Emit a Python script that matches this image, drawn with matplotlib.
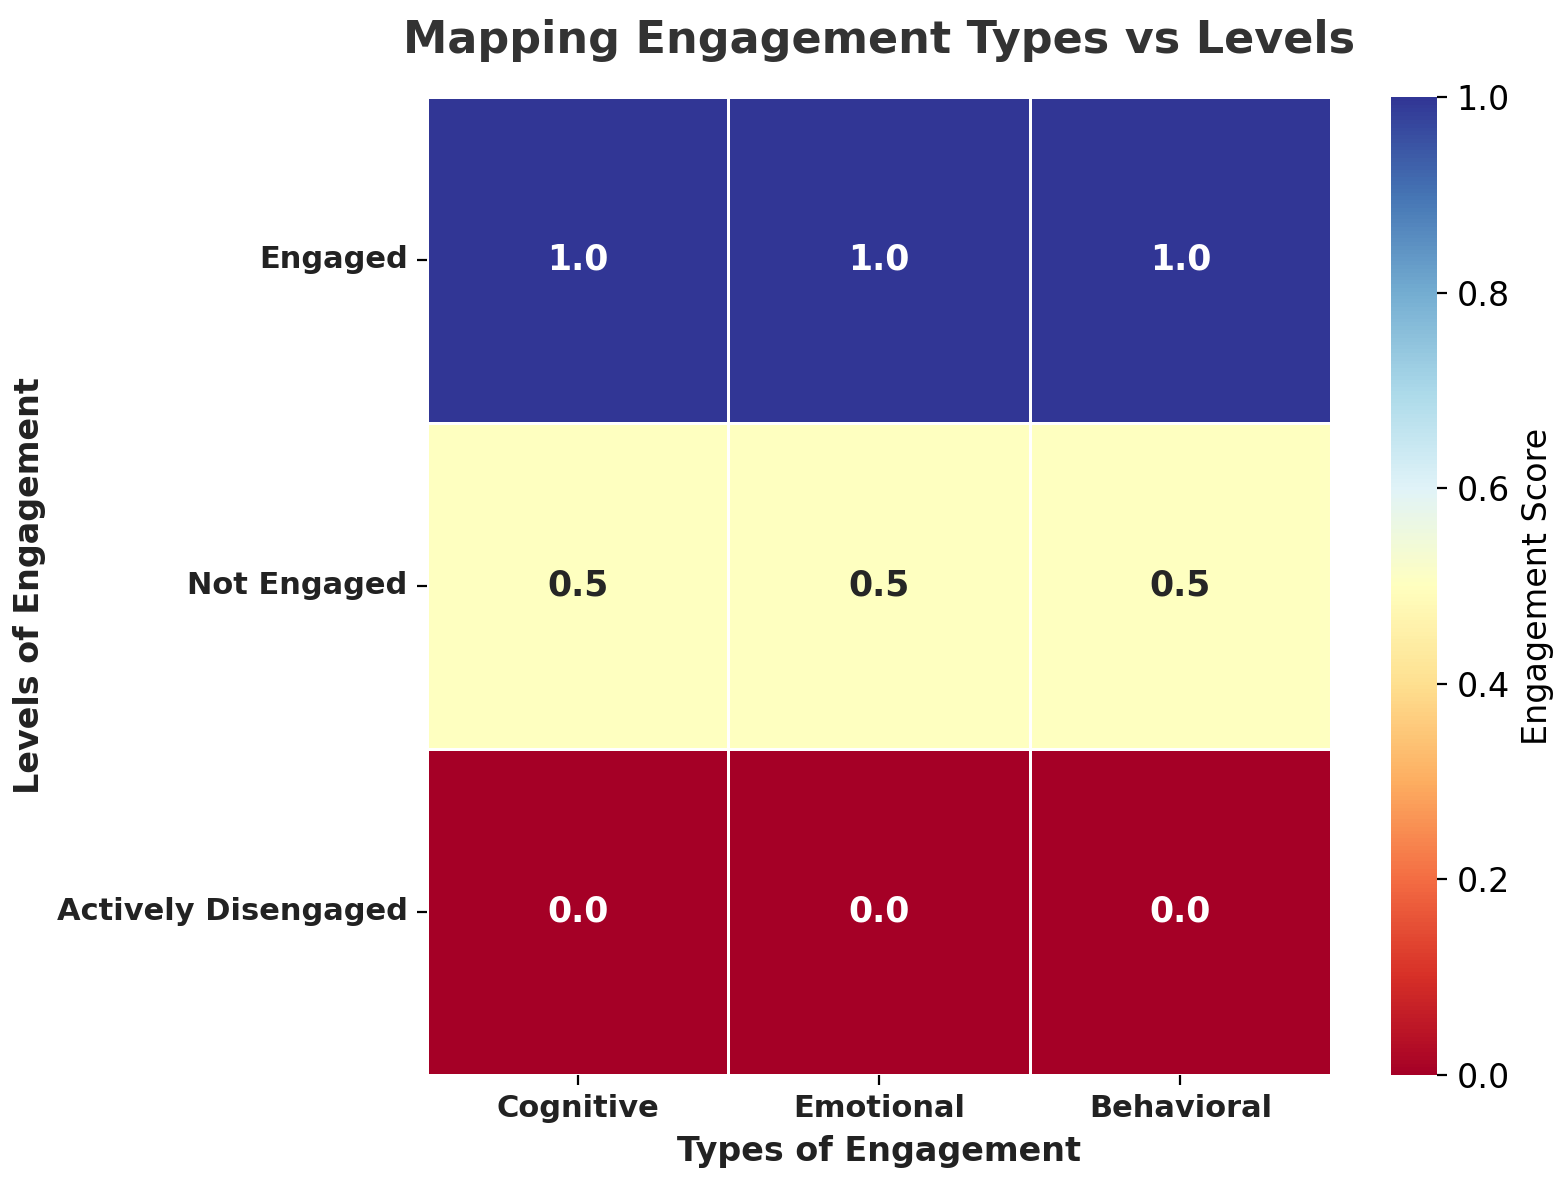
import numpy as np
import matplotlib.pyplot as plt
import seaborn as sns

types = ['Cognitive', 'Emotional', 'Behavioral']
levels = ['Engaged', 'Not Engaged', 'Actively Disengaged']
scores = np.array([[1.0, 1.0, 1.0],
                   [0.5, 0.5, 0.5],
                   [0.0, 0.0, 0.0]])

fig = plt.figure(figsize=(7.825, 5.9), dpi=200)
ax = fig.add_axes([427/1565, 1 - 1075/1180, 904/1565, 978/1180])
cax = fig.add_axes([1391/1565, 1 - 1075/1180, 46/1565, 978/1180])

sns.heatmap(scores, ax=ax, cbar_ax=cax, cmap='RdYlBu', vmin=0, vmax=1,
            annot=True, fmt='.1f', linewidths=1, linecolor='white',
            annot_kws={'fontsize': 12.5, 'fontweight': 'bold'},
            xticklabels=types, yticklabels=levels)

ax.set_xticklabels(types, fontsize=11, fontweight='bold', color='#222222')
ax.set_yticklabels(levels, fontsize=11, fontweight='bold', rotation=0, color='#222222')
ax.set_xlabel('Types of Engagement', fontsize=12, fontweight='bold', color='#222222')
ax.set_ylabel('Levels of Engagement', fontsize=12, fontweight='bold', color='#222222')
ax.set_title('Mapping Engagement Types vs Levels', fontsize=16, fontweight='bold',
             color='#333333', pad=16)
cax.tick_params(labelsize=12)
cax.set_ylabel('Engagement Score', fontsize=12)

fig.savefig('out.png', dpi=200)
